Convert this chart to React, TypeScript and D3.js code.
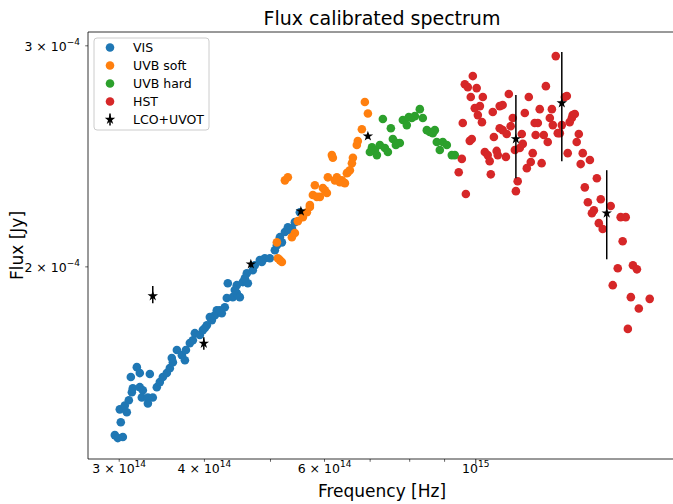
import React from 'react';
import * as d3 from 'd3';

// Units: frequency in 1e14 Hz, flux in 1e-4 Jy
const FREQ_UNIT = 1e14;
const FLUX_UNIT = 1e-4;

const visPoints: [number, number][] = [
  [2.956,1.469],[2.986,1.461],[3.037,1.464],[3.016,1.504],[3.006,1.540],[3.078,1.532],[3.057,1.551],[3.099,1.566],
  [3.131,1.589],[3.141,1.601],[3.120,1.634],[3.184,1.664],[3.216,1.646],[3.327,1.643],[3.216,1.604],[3.249,1.595],
  [3.238,1.574],[3.305,1.574],[3.360,1.574],[3.305,1.557],[3.406,1.604],[3.441,1.619],[3.476,1.634],[3.523,1.646],
  [3.559,1.661],[3.583,1.692],[3.645,1.717],[3.707,1.701],[3.745,1.685],[3.596,1.679],[3.808,1.739],[3.873,1.771],
  [3.939,1.765],[3.979,1.781],[4.033,1.797],[4.102,1.814],[4.144,1.830],[4.171,1.847],[4.242,1.837],[4.285,1.857],
  [4.074,1.824],[4.213,1.847],[4.314,1.889],[4.402,1.892],[4.462,1.906],[4.508,1.892],[4.329,1.941],[4.462,1.934],
  [4.554,1.945],[4.632,1.941],[4.616,1.977],[4.710,1.988],[4.742,2.006],[4.823,2.025],[4.905,2.032],[4.989,2.032],
  [5.109,2.081],[5.196,2.092],[5.161,2.112],[5.249,2.132],[5.302,2.151],[5.374,2.147],[5.521,2.211],[3.758,1.717],
  [3.847,1.748],[4.006,1.788],[4.432,1.917],[4.585,1.959],[4.856,2.018],[5.074,2.062],[5.338,2.140],[5.429,2.171],
];

const uvbSoftPoints: [number, number][] = [
  [5.249,2.344],[5.302,2.357],[5.109,2.092],[5.374,2.112],[5.429,2.128],[5.161,2.025],[5.126,2.032],[5.196,2.018],
  [5.484,2.175],[5.578,2.191],[5.654,2.211],[5.711,2.240],[5.808,2.323],[5.769,2.282],[5.907,2.274],[6.008,2.302],
  [6.049,2.290],[6.069,2.357],[6.256,2.357],[6.320,2.336],[6.428,2.332],[6.471,2.375],[6.876,2.706],[6.947,2.650],
  [6.807,2.574],[6.714,2.519],[6.692,2.501],[6.604,2.443],[6.582,2.419],[6.537,2.388],[6.493,2.379],[6.151,2.455],
  [6.172,2.443],[6.214,2.344],[6.363,2.344],[6.385,2.336],[5.711,2.232],[5.847,2.274],[5.967,2.311],
];

const uvbHardPoints: [number, number][] = [
  [7.043,2.490],[7.113,2.478],[7.161,2.455],[7.233,2.501],[7.357,2.487],[7.432,2.469],[7.307,2.623],[7.507,2.579],
  [7.558,2.529],[7.661,2.510],[7.738,2.510],[7.817,2.618],[7.922,2.594],[8.058,2.628],[8.140,2.637],[8.278,2.671],
  [8.362,2.628],[8.476,2.570],[8.562,2.561],[8.649,2.556],[8.767,2.515],[8.856,2.478],[8.946,2.515],[9.068,2.501],
  [9.222,2.455],[9.316,2.455],[6.994,2.469],[7.635,2.501],[7.976,2.632],[8.708,2.570],
];

const hstPoints: [number, number][] = [
  [9.90,2.838],[9.636,2.796],[9.734,2.781],[10.03,2.776],[9.832,2.731],[10.24,2.731],[9.966,2.676],[10.14,2.686],
  [10.07,2.642],[10.21,2.608],[9.57,2.604],[9.799,2.520],[9.866,2.529],[9.54,2.438],[9.44,2.379],[9.67,2.286],
  [10.31,2.469],[10.41,2.455],[10.48,2.428],[10.73,2.474],[10.77,2.455],[10.52,2.370],[10.63,2.538],[10.59,2.657],
  [10.84,2.686],[10.95,2.691],[10.84,2.579],[10.95,2.570],[11.10,2.552],[11.25,2.589],[11.33,2.628],[11.18,2.746],
  [11.07,2.447],[11.41,2.478],[11.60,2.487],[11.72,2.506],[11.68,2.552],[11.52,2.340],[11.45,2.298],[11.80,2.652],
  [11.96,2.731],[12.12,2.464],[12.04,2.424],[11.88,2.397],[12.20,2.604],[12.33,2.604],[12.24,2.547],[12.58,2.547],
  [12.75,2.515],[12.49,2.419],[12.41,2.671],[12.67,2.786],[12.84,2.628],[12.97,2.594],[12.93,2.671],[13.19,2.556],
  [13.28,2.556],[13.37,2.594],[13.10,2.944],[13.51,2.731],[13.60,2.736],[13.64,2.464],[13.73,2.608],[13.83,2.628],
  [13.87,2.642],[13.97,2.647],[14.16,2.552],[14.06,2.515],[14.35,2.464],[14.25,2.415],[14.70,2.433],[15.05,2.353],
  [14.45,2.314],[14.60,2.252],[14.80,2.207],[14.90,2.219],[15.15,2.167],[15.35,2.144],[15.25,2.264],[15.77,2.236],
  [16.31,2.191],[16.59,2.191],[16.42,2.096],[16.15,1.995],[17.00,2.006],[17.23,1.991],[15.88,1.934],[16.88,1.892],
  [17.99,1.886],[17.34,1.853],[16.71,1.785],
];

const lcoFreq = [3.36, 3.992, 4.679, 5.540, 6.947, 11.45, 13.37, 15.56];
const lcoFlux = [1.896, 1.738, 2.010, 2.215, 2.542, 2.529, 2.701, 2.207];
const lcoErrLow = [0.025, 0.02, 0.012, 0.012, 0.012, 0.176, 0.273, 0.179];
const lcoErrHigh = [0.035, 0.02, 0.012, 0.012, 0.012, 0.212, 0.265, 0.181];

const seriesNames = ['VIS', 'UVB soft', 'UVB hard', 'HST', 'LCO+UVOT'];
const seriesColors = ['#1f77b4', '#ff7f0e', '#2ca02c', '#d62728', '#000000'];

const xMinorTicks = [3, 4, 5, 6, 7, 8, 9];
const xMajorTicks = [10];
const xTickLabels = [
  { v: 3, mant: '3 × 10', exp: '14' },
  { v: 4, mant: '4 × 10', exp: '14' },
  { v: 6, mant: '6 × 10', exp: '14' },
  { v: 10, mant: '10', exp: '15' },
];
const yTickLabels = [
  { v: 2, mant: '2 × 10', exp: '−4' },
  { v: 3, mant: '3 × 10', exp: '−4' },
];

const W = 673, H = 504;
const L = 88, R = 676, T = 32, B = 459;
const FONT = 'DejaVu Sans, sans-serif';

export default function App() {
  const x = d3.scaleLog().domain([2.70 * FREQ_UNIT, 19.66 * FREQ_UNIT]).range([L, R]);
  const y = d3.scaleLog().domain([1.406 * FLUX_UNIT, 3.077 * FLUX_UNIT]).range([B, T]);
  const fx = (v: number) => x(v * FREQ_UNIT);
  const fy = (v: number) => y(v * FLUX_UNIT);
  const star = d3.symbol().type(d3.symbolStar).size(34)() as string;
  const dotR = 4.3;
  const scatterSets = [visPoints, uvbSoftPoints, uvbHardPoints, hstPoints];

  return (
    <svg width={W} height={H} style={{ position: 'absolute', left: 0, top: 0, background: '#fff' }} fontFamily={FONT}>
      <rect x={0} y={0} width={W} height={H} fill="#fff" />
      <defs>
        <clipPath id="plotclip">
          <rect x={L} y={T} width={R - L} height={B - T} />
        </clipPath>
      </defs>
      <g clipPath="url(#plotclip)">
        {scatterSets.map((pts, si) => (
          <g key={si} fill={seriesColors[si]}>
            {pts.map((p, i) => (
              <circle key={i} cx={fx(p[0])} cy={fy(p[1])} r={dotR} />
            ))}
          </g>
        ))}
        <g>
          {lcoFreq.map((f, i) => (
            <g key={i}>
              <line x1={fx(f)} x2={fx(f)} y1={fy(lcoFlux[i] - lcoErrLow[i])} y2={fy(lcoFlux[i] + lcoErrHigh[i])}
                stroke="#000" strokeWidth={1.5} />
              <path d={star} transform={`translate(${fx(f)},${fy(lcoFlux[i])})`} fill="#000" />
            </g>
          ))}
        </g>
      </g>
      {/* spines */}
      <line x1={L} x2={L} y1={T} y2={B} stroke="#000" strokeWidth={0.8} />
      <line x1={L} x2={W} y1={T} y2={T} stroke="#000" strokeWidth={0.8} />
      <line x1={L} x2={W} y1={B} y2={B} stroke="#000" strokeWidth={0.8} />
      {/* x ticks */}
      {xMinorTicks.map((t) => (
        <line key={'xm' + t} x1={fx(t)} x2={fx(t)} y1={B} y2={B + 2.8} stroke="#000" strokeWidth={0.6} />
      ))}
      {xMajorTicks.map((t) => (
        <line key={'xM' + t} x1={fx(t)} x2={fx(t)} y1={B} y2={B + 4.8} stroke="#000" strokeWidth={0.8} />
      ))}
      {xTickLabels.map((t) => (
        <text key={'xl' + t.v} x={fx(t.v)} y={B + 13.5} textAnchor="middle" fontSize={12.5} fill="#000">
          {t.mant}
          <tspan dy={-5.5} fontSize={9}>{t.exp}</tspan>
        </text>
      ))}
      {/* y ticks */}
      {yTickLabels.map((t) => (
        <g key={'yl' + t.v}>
          <line x1={L} x2={L - 2.8} y1={fy(t.v)} y2={fy(t.v)} stroke="#000" strokeWidth={0.6} />
          <text x={80} y={fy(t.v) + 5} textAnchor="end" fontSize={12.5} fill="#000">
            {t.mant}
            <tspan dy={-5.5} fontSize={9}>{t.exp}</tspan>
          </text>
        </g>
      ))}
      {/* labels */}
      <text x={(L + R) / 2} y={25} textAnchor="middle" fontSize={19} fill="#000">Flux calibrated spectrum</text>
      <text x={(L + R) / 2} y={497} textAnchor="middle" fontSize={17} fill="#000">Frequency [Hz]</text>
      <text transform={`translate(23,${(T + B) / 2}) rotate(-90)`} textAnchor="middle" fontSize={17} fill="#000">Flux [Jy]</text>
      {/* legend */}
      <g>
        <rect x={94} y={38} width={115} height={92} rx={3} ry={3} fill="#fff" fillOpacity={0.8} stroke="#cccccc" strokeWidth={1} />
        {seriesNames.map((name, i) => {
          const cy = 47.5 + i * 18;
          return (
            <g key={name}>
              {i < 4 ? (
                <circle cx={110} cy={cy} r={dotR} fill={seriesColors[i]} />
              ) : (
                <g>
                  <line x1={110} x2={110} y1={cy - 6} y2={cy + 6} stroke="#000" strokeWidth={1.5} />
                  <path d={star} transform={`translate(110,${cy})`} fill="#000" />
                </g>
              )}
              <text x={133} y={cy + 4.5} fontSize={12.5} fill="#000">{name}</text>
            </g>
          );
        })}
      </g>
    </svg>
  );
}
